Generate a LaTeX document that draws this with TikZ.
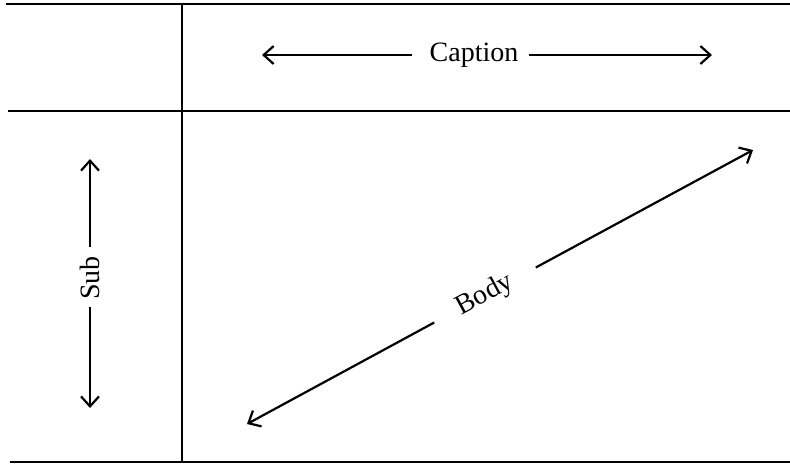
\documentclass[tikz,border=0pt]{standalone}
\usepackage{fontspec}
\setmainfont{Liberation Serif}
\usetikzlibrary{arrows.meta}
\begin{document}
\begin{tikzpicture}[x=0.5pt,y=-0.5pt,
  rule/.style={line width=1.2pt,black},
  arr/.style={line width=1.1pt,-{Straight Barb[length=5pt,width=9pt,line width=1.1pt]}},
  lbl/.style={font=\fontsize{14}{16}\selectfont,inner sep=0pt}]
\useasboundingbox (0,0) rectangle (790,467);
% rules
\coordinate (t1) at (6,4);   \coordinate (t2) at (790,4);
\coordinate (m1) at (8,111); \coordinate (m2) at (790,111);
\coordinate (b1) at (10,462); \coordinate (b2) at (790,462);
\coordinate (v1) at (182,4); \coordinate (v2) at (182,462);
\draw[rule] (t1) -- (t2);
\draw[rule] (m1) -- (m2);
\draw[rule] (b1) -- (b2);
\draw[rule] (v1) -- (v2);
% caption
\node[lbl] (cap) at (474,55) {Caption};
\coordinate (capL) at (262,55);
\coordinate (capR) at (712,55);
\draw[arr] ([xshift=-8.5pt]cap.west) -- (capL);
\draw[arr] ([xshift=5pt]cap.east) -- (capR);
% sub
\node[lbl,rotate=90] (sub) at (90,278) {Sub};
\coordinate (subT) at (90,159);
\coordinate (subB) at (90,408);
\draw[arr] ([yshift=4.5pt]sub.east) -- (subT);
\draw[arr] ([yshift=-3.5pt]sub.west) -- (subB);
% body
\node[lbl,rotate=28.43,inner xsep=13.5pt] (body) at (485,295) {Body};
\coordinate (bodyUR) at (753,150);
\coordinate (bodyLL) at (247,424);
\draw[arr] (body.east) -- (bodyUR);
\draw[arr] (body.west) -- (bodyLL);
\end{tikzpicture}
\end{document}
